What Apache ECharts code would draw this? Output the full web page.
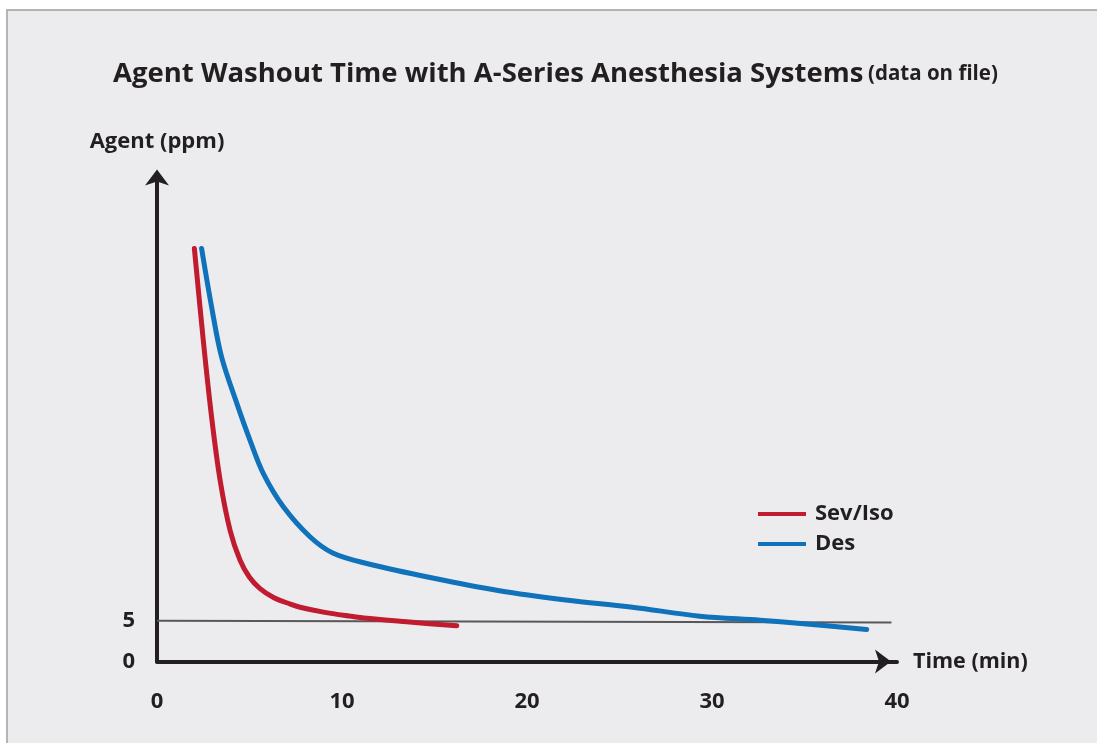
<!DOCTYPE html>
<html lang="en">
<head>
    <meta charset="utf-8">
    <title>Agent Washout Time</title>
    <script src="https://cdn.jsdelivr.net/npm/echarts@6/dist/echarts.min.js"></script>
    <style type="text/css">
        body {
            margin: 0;
            background: #ffffff;
        }

        #frame {
            position: absolute;
            left: 6px;
            top: 9px;
            width: 1091px;
            height: 734px;
            background: #ececee;
            border-top: 2px solid #b4b4b6;
            border-left: 2px solid #b4b4b6;
            box-sizing: border-box;
        }

        #main {
            position: absolute;
            left: 0;
            top: 0;
            width: 1097px;
            height: 743px;
        }
    </style>
</head>
<body>
<div id="frame"></div>
<div id="main"></div>
<script type="text/javascript">
    // washout curves, [time (min), agent (ppm)]
    const sevIsoData = [
        [2.02, 51.0], [2.5, 39.7], [2.95, 30.2], [3.41, 22.4], [3.95, 16.2],
        [4.49, 12.5], [5.0, 10.4], [5.57, 9.0], [6.3, 7.9], [7.19, 7.1],
        [7.73, 6.7], [9.0, 6.1], [10.43, 5.6], [11.34, 5.33], [13.5, 4.9],
        [16.2, 4.4]
    ];
    const desData = [
        [2.41, 51.0], [2.95, 43.8], [3.49, 37.6], [4.31, 31.9], [5.03, 27.3],
        [5.75, 23.2], [6.83, 19.1], [8.27, 15.4], [9.5, 13.4], [11.34, 12.1],
        [14.9, 10.3], [18.5, 8.74], [22.1, 7.6], [25.7, 6.7], [29.35, 5.6],
        [32.6, 5.1], [34.8, 4.7], [38.36, 3.96]
    ];
    const seriesNames = ['Sev/Iso', 'Des'];
    const thresholdLine = [[0, 5.04], [39.7, 4.8]];
    const yLabelsShown = [0, 5];

    const font = 'Open Sans';
    const dark = '#231f20';
    const labelStyle = {fontFamily: font, fontWeight: 'bold', fontSize: 22, color: dark};

    let chart = echarts.init(document.getElementById('main'));
    chart.setOption({
        backgroundColor: 'transparent',
        textStyle: {fontFamily: font},
        title: {
            text: '{a|Agent Washout Time with A-Series Anesthesia Systems} {b|(data on file)}',
            left: 108,
            top: 55,
            textStyle: {
                rich: {
                    a: {fontFamily: font, fontWeight: 'bold', fontSize: 27.5, color: dark},
                    b: {fontFamily: font, fontWeight: 'bold', fontSize: 20.5, color: dark}
                }
            }
        },
        legend: {
            orient: 'vertical',
            left: 758,
            top: 503,
            padding: 0,
            icon: 'rect',
            itemWidth: 48,
            itemHeight: 4,
            itemGap: 8,
            textStyle: Object.assign({}, labelStyle, {lineHeight: 22, padding: [0, 0, 0, 4]}),
            data: seriesNames
        },
        grid: {left: 157, right: 200, top: 175.5, bottom: 81.5},
        xAxis: {
            type: 'value',
            min: 0,
            max: 40,
            interval: 10,
            name: 'Time (min)',
            nameLocation: 'end',
            nameGap: 16,
            nameTextStyle: Object.assign({}, labelStyle, {fontSize: 21.5, verticalAlign: 'middle'}),
            axisLine: {
                show: true,
                symbol: ['none', 'arrow'],
                symbolSize: [18, 16],
                symbolOffset: [0, -6],
                lineStyle: {color: dark, width: 4}
            },
            axisTick: {show: false},
            splitLine: {show: false},
            axisLabel: Object.assign({}, labelStyle, {margin: 29})
        },
        yAxis: {
            type: 'value',
            min: 0,
            max: 60,
            interval: 5,
            name: 'Agent (ppm)',
            nameLocation: 'end',
            nameGap: 23,
            nameTextStyle: Object.assign({}, labelStyle, {align: 'center'}),
            axisLine: {
                show: true,
                symbol: ['none', 'arrow'],
                symbolSize: [18, 16],
                symbolOffset: [0, 6],
                lineStyle: {color: dark, width: 4}
            },
            axisTick: {show: false},
            splitLine: {show: false},
            axisLabel: Object.assign({}, labelStyle, {
                margin: 22,
                formatter: function (v) {
                    return yLabelsShown.indexOf(v) >= 0 ? String(v) : '';
                }
            })
        },
        series: [
            {
                name: seriesNames[0],
                type: 'line',
                data: sevIsoData,
                smooth: 0.35,
                showSymbol: false,
                symbol: 'none',
                lineStyle: {color: '#c01b2f', width: 5, cap: 'round', join: 'round'},
                itemStyle: {color: '#c01b2f'},
                z: 3,
                markLine: {
                    silent: true,
                    symbol: 'none',
                    label: {show: false},
                    lineStyle: {color: '#58585a', width: 2, type: 'solid'},
                    data: [[{coord: thresholdLine[0]}, {coord: thresholdLine[1]}]],
                    z: 1
                }
            },
            {
                name: seriesNames[1],
                type: 'line',
                data: desData,
                smooth: 0.35,
                showSymbol: false,
                symbol: 'none',
                lineStyle: {color: '#0f72ba', width: 5, cap: 'round', join: 'round'},
                itemStyle: {color: '#0f72ba'},
                z: 3
            }
        ]
    });
</script>
</body>
</html>
